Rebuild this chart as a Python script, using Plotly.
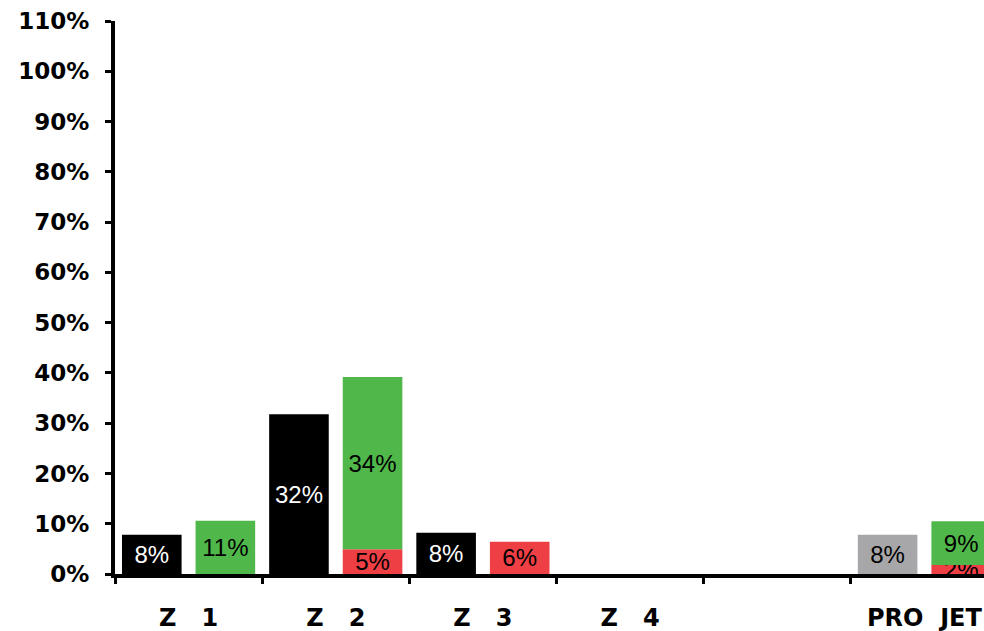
import plotly.graph_objects as go

categories = ["Z\u00a0\u00a0\u00a01", "Z\u00a0\u00a0\u00a02", "Z\u00a0\u00a0\u00a03", "Z\u00a0\u00a0\u00a04", "\u00a0", "PRO\u00a0\u00a0JET"]
left_values = [7.8, 31.8, 8.2, 0, None, 7.8]
left_colors = ["#000000", "#000000", "#000000", "#000000", "#000000", "#A7A7A9"]
left_text_colors = ["#FFFFFF", "#FFFFFF", "#FFFFFF", "#FFFFFF", "#FFFFFF", "#000000"]
red_values = [None, 4.9, 6.4, None, None, 1.8]
green_values = [10.6, 34.3, None, None, None, 8.7]

green_base = [(r or 0) for r in red_values]

TEXT_FONT = "Liberation Sans, Arial, sans-serif"
BOLD_FONT = "DejaVu Sans, sans-serif"
TEXT_SIZE = 24

fig = go.Figure()
fig.add_trace(go.Bar(
    x=categories, y=left_values, offsetgroup="a",
    marker=dict(color=left_colors, line=dict(width=0)),
    texttemplate="%{y:.0f}%", textposition="inside", insidetextanchor="middle",
    textfont=dict(family=TEXT_FONT, size=TEXT_SIZE, color=left_text_colors),
    constraintext="none", hoverinfo="skip",
))
fig.add_trace(go.Bar(
    x=categories, y=red_values, offsetgroup="b",
    marker=dict(color="#EE3F45", line=dict(width=0)),
    texttemplate="%{y:.0f}%", textposition="inside", insidetextanchor="middle",
    textfont=dict(family=TEXT_FONT, size=TEXT_SIZE, color="#000000"),
    constraintext="none", hoverinfo="skip",
))
fig.add_trace(go.Bar(
    x=categories, y=green_values, base=green_base, offsetgroup="b",
    marker=dict(color="#50B74A", line=dict(width=0)),
    texttemplate="%{y:.0f}%", textposition="inside", insidetextanchor="middle",
    textfont=dict(family=TEXT_FONT, size=TEXT_SIZE, color="#000000"),
    constraintext="none", hoverinfo="skip",
))

fig.update_layout(
    width=984, height=631,
    margin=dict(l=115, r=0, t=21, b=57),
    paper_bgcolor="white", plot_bgcolor="white",
    barmode="group", bargap=0.0, bargroupgap=0.19,
    showlegend=False,
    uniformtext=dict(minsize=TEXT_SIZE, mode="show"),
)
fig.update_xaxes(
    type="category", categoryorder="array", categoryarray=categories,
    range=[-0.5, 5.405],
    showline=True, linewidth=4, linecolor="black",
    ticks="outside", tickson="boundaries", ticklen=6, tickwidth=3, tickcolor="black",
    tickfont=dict(family=BOLD_FONT, size=24, color="black", weight="bold"),
    ticklabelstandoff=19,
    showgrid=False, zeroline=False,
)
fig.update_yaxes(
    range=[0, 110], dtick=10, tick0=0, ticksuffix="%",
    showline=True, linewidth=4, linecolor="black",
    ticks="outside", ticklen=6, tickwidth=3, tickcolor="black",
    tickfont=dict(family=BOLD_FONT, size=23, color="black", weight="bold"),
    ticklabelstandoff=11,
    showgrid=False, zeroline=False,
)

fig.write_html("out.html")
